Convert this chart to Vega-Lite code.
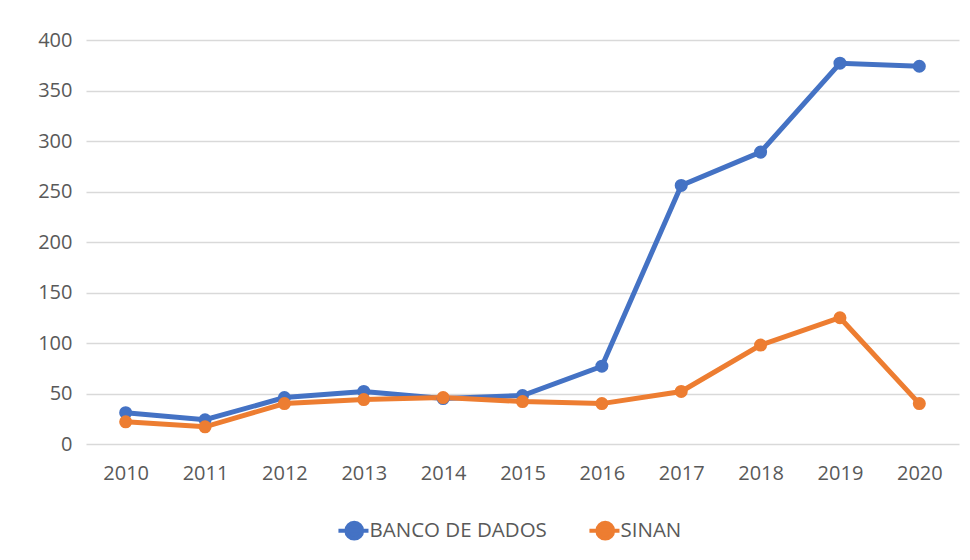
{
  "$schema": "https://vega.github.io/schema/vega-lite/v6.json",
  "autosize": "none",
  "width": 873,
  "height": 404,
  "padding": {"left": 86, "top": 40, "right": 11, "bottom": 116},
  "background": "white",
  "config": {
    "view": {"stroke": null},
    "font": "Open Sans",
    "axis": {"labelFont": "Open Sans", "labelColor": "#595959", "labelFontSize": 20, "gridColor": "#d9d9d9", "gridWidth": 1.3, "domain": false, "ticks": false}
  },
  "data": {
    "values": [
      {"year": "2010", "series": "BANCO DE DADOS", "value": 31},
      {"year": "2011", "series": "BANCO DE DADOS", "value": 24},
      {"year": "2012", "series": "BANCO DE DADOS", "value": 46},
      {"year": "2013", "series": "BANCO DE DADOS", "value": 52},
      {"year": "2014", "series": "BANCO DE DADOS", "value": 45},
      {"year": "2015", "series": "BANCO DE DADOS", "value": 48},
      {"year": "2016", "series": "BANCO DE DADOS", "value": 77},
      {"year": "2017", "series": "BANCO DE DADOS", "value": 256},
      {"year": "2018", "series": "BANCO DE DADOS", "value": 289},
      {"year": "2019", "series": "BANCO DE DADOS", "value": 377},
      {"year": "2020", "series": "BANCO DE DADOS", "value": 374},
      {"year": "2010", "series": "SINAN", "value": 22},
      {"year": "2011", "series": "SINAN", "value": 17},
      {"year": "2012", "series": "SINAN", "value": 40},
      {"year": "2013", "series": "SINAN", "value": 44},
      {"year": "2014", "series": "SINAN", "value": 46},
      {"year": "2015", "series": "SINAN", "value": 42},
      {"year": "2016", "series": "SINAN", "value": 40},
      {"year": "2017", "series": "SINAN", "value": 52},
      {"year": "2018", "series": "SINAN", "value": 98},
      {"year": "2019", "series": "SINAN", "value": 125},
      {"year": "2020", "series": "SINAN", "value": 40}
    ]
  },
  "encoding": {
    "x": {"field": "year", "type": "ordinal", "title": null, "scale": {"type": "point", "padding": 0.5},
          "axis": {"labelAngle": 0, "labelPadding": 19, "grid": false}},
    "y": {"field": "value", "type": "quantitative", "title": null,
          "scale": {"domain": [0, 400]},
          "axis": {"values": [0, 50, 100, 150, 200, 250, 300, 350, 400], "labelPadding": 14}},
    "color": {"field": "series", "type": "nominal", "title": null,
              "scale": {"domain": ["BANCO DE DADOS", "SINAN"], "range": ["#4472C4", "#ED7D31"]},
              "legend": {
                "orient": "none", "direction": "horizontal", "legendX": 258, "legendY": 480,
                "labelFont": "Open Sans", "labelFontSize": 20.5, "labelColor": "#595959", "labelLimit": 0,
                "symbolType": "M-2,0L1.8,0M-1,0A1,1,0,1,1,1,0A1,1,0,1,1,-1,0Z",
                "symbolSize": 250, "symbolStrokeWidth": 4, "columnPadding": 34, "labelOffset": 5,
                "encode": {"symbols": {"update": {"fill": {"scale": "color", "field": "value"}, "stroke": {"scale": "color", "field": "value"}, "opacity": {"value": 1}}}}
              }}
  },
  "layer": [
    {"mark": {"type": "line", "strokeWidth": 5}},
    {"mark": {"type": "point", "filled": true, "size": 170, "opacity": 1}}
  ]
}
